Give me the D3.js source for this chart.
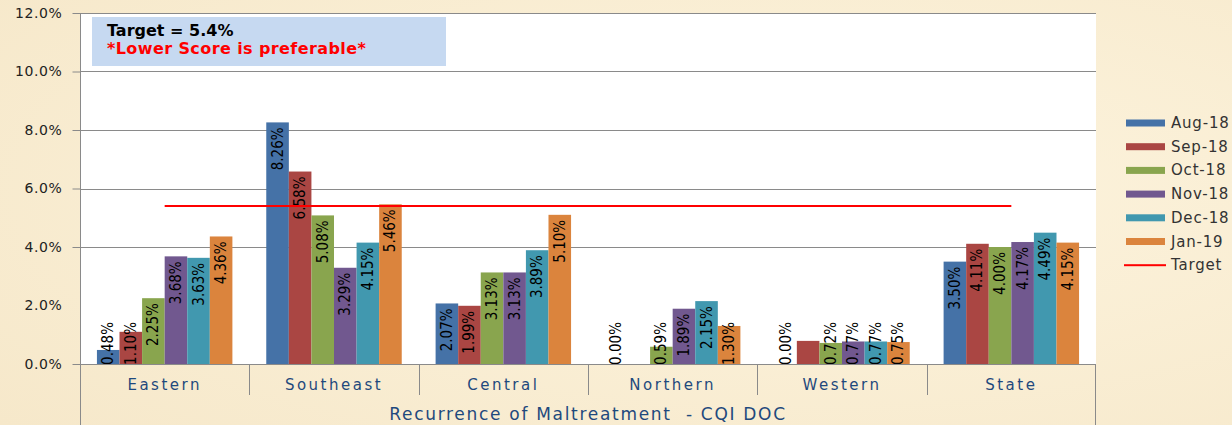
<!DOCTYPE html>
<html>
<head>
  <title>Recurrence of Maltreatment - CQI DOC</title>
  <script src="https://d3js.org/d3.v7.min.js"></script>
  <style>
    body { margin: 0; background: #f8ecd2; overflow: hidden; }
    svg { display: block; }
  </style>
</head>
<body>
  <svg id="chart" width="1232" height="425"></svg>

  <script type="text/javascript">

  // data (percent)
  var regions = ["Eastern", "Southeast", "Central", "Northern", "Western", "State"];
  var months = ["Aug-18", "Sep-18", "Oct-18", "Nov-18", "Dec-18", "Jan-19"];
  var aug18 = [0.48, 8.26, 2.07, 0.00, 0.00, 3.50];
  var sep18 = [1.10, 6.58, 1.99, null, 0.79, 4.11];
  var oct18 = [2.25, 5.08, 3.13, 0.59, 0.72, 4.00];
  var nov18 = [3.68, 3.29, 3.13, 1.89, 0.77, 4.17];
  var dec18 = [3.63, 4.15, 3.89, 2.15, 0.77, 4.49];
  var jan19 = [4.36, 5.46, 5.10, 1.30, 0.75, 4.15];
  var target = 5.4;
  var yTicks = [0, 2, 4, 6, 8, 10, 12];
  // the Western Sep-18 bar has no value label in the original
  var unlabeled = [["Sep-18", "Western"]];

  var series = [aug18, sep18, oct18, nov18, dec18, jan19];
  var colors = ["#4572a7", "#aa4643", "#89a54e", "#71588f", "#4198af", "#db843d"];

  var svg = d3.select("#chart");

  // parchment-ish background
  var defs = svg.append("defs");
  var grad = defs.append("radialGradient").attr("id", "paper")
    .attr("cx", "65%").attr("cy", "45%").attr("r", "85%");
  grad.append("stop").attr("offset", "0%").attr("stop-color", "#fdf4de");
  grad.append("stop").attr("offset", "100%").attr("stop-color", "#f6e8ca");
  svg.append("rect").attr("width", 1232).attr("height", 425).attr("fill", "url(#paper)");

  // (window.top is reserved, so plot edges get their own names)
  var plotLeft = 80, plotRight = 1096, plotTop = 13, plotBottom = 364;

  var y = d3.scaleLinear().domain([0, 12]).range([plotBottom, plotTop]);
  var x0 = d3.scaleBand().domain(regions).range([plotLeft, plotRight])
    .paddingInner(0.2).paddingOuter(0.1);
  var x1 = d3.scaleBand().domain(months).range([0, x0.bandwidth()]);
  var step = x0.step();

  // white plot area
  svg.append("rect")
    .attr("x", plotLeft).attr("y", plotTop)
    .attr("width", plotRight - plotLeft).attr("height", plotBottom - plotTop)
    .attr("fill", "#ffffff");

  // gridlines (the 2% line does not show in the original)
  svg.append("g").selectAll("line")
    .data(yTicks.filter(function(d) { return d >= 4; }))
    .enter().append("line")
    .attr("x1", plotLeft).attr("x2", plotRight)
    .attr("y1", function(d) { return Math.round(y(d)) + 0.5; })
    .attr("y2", function(d) { return Math.round(y(d)) + 0.5; })
    .attr("stroke", "#8a8a8a");

  // y axis
  var yAxis = svg.append("g")
    .attr("transform", "translate(" + (plotLeft + 0.5) + ",0)")
    .call(d3.axisLeft(y).tickValues(yTicks).tickSize(8).tickPadding(10)
      .tickFormat(function(d) { return d.toFixed(1) + "%"; }));
  yAxis.select(".domain").remove();
  yAxis.selectAll(".tick line").attr("stroke", "#8a8a8a")
    .filter(function(d) { return d === 2; }).remove();
  yAxis.selectAll(".tick text")
    .attr("fill", "#222")
    .style("font-family", "DejaVu Sans, sans-serif")
    .style("font-size", "14px")
    .style("letter-spacing", "0.6px");

  // axis frame
  svg.append("line").attr("x1", plotLeft + 0.5).attr("x2", plotLeft + 0.5)
    .attr("y1", plotTop).attr("y2", 425).attr("stroke", "#8a8a8a");
  svg.append("line").attr("x1", plotRight - 0.5).attr("x2", plotRight - 0.5)
    .attr("y1", plotBottom).attr("y2", 425).attr("stroke", "#8a8a8a");
  svg.append("line").attr("x1", plotLeft).attr("x2", plotRight)
    .attr("y1", plotBottom + 0.5).attr("y2", plotBottom + 0.5).attr("stroke", "#8a8a8a");

  // category separators
  svg.append("g").selectAll("line")
    .data(regions.slice(1))
    .enter().append("line")
    .attr("x1", function(d) { return Math.round(x0(d) - step * 0.1) + 0.5; })
    .attr("x2", function(d) { return Math.round(x0(d) - step * 0.1) + 0.5; })
    .attr("y1", plotBottom).attr("y2", 395)
    .attr("stroke", "#8a8a8a");

  // category labels
  svg.append("g").selectAll("text")
    .data(regions)
    .enter().append("text")
    .attr("x", function(d) { return x0(d) + x0.bandwidth() / 2; })
    .attr("y", 390)
    .attr("text-anchor", "middle")
    .attr("fill", "#1f497d")
    .style("font-family", "DejaVu Sans, sans-serif")
    .style("font-size", "15px")
    .style("letter-spacing", "2.5px")
    .text(function(d) { return d; });

  svg.append("text")
    .attr("x", 588).attr("y", 420)
    .attr("text-anchor", "middle")
    .attr("fill", "#1f497d")
    .style("font-family", "DejaVu Sans, sans-serif")
    .style("font-size", "17px")
    .style("letter-spacing", "1.7px")
    .style("white-space", "pre")
    .text("Recurrence of Maltreatment  - CQI DOC");

  // bars
  var flat = [];
  series.forEach(function(vals, si) {
    vals.forEach(function(v, ri) {
      if (v === null) return;
      flat.push({ month: months[si], region: regions[ri], value: v, color: colors[si] });
    });
  });

  var groups = svg.append("g");
  groups.selectAll("rect")
    .data(flat)
    .enter().append("rect")
    .attr("x", function(d) { return x0(d.region) + x1(d.month); })
    .attr("width", x1.bandwidth())
    .attr("y", function(d) { return y(d.value); })
    .attr("height", function(d) { return plotBottom - y(d.value); })
    .attr("fill", function(d) { return d.color; });

  // value labels, rotated, inside the top end of the bar
  var labelLen = 35;
  function isHidden(d) {
    return unlabeled.some(function(u) { return u[0] === d.month && u[1] === d.region; });
  }
  groups.selectAll("text")
    .data(flat.filter(function(d) { return !isHidden(d); }))
    .enter().append("text")
    .attr("transform", function(d) {
      var cx = x0(d.region) + x1(d.month) + x1.bandwidth() / 2;
      var t = y(d.value) + 5;
      var yy = (t + labelLen > plotBottom - 7) ? plotBottom - 7 - labelLen : t;
      return "translate(" + cx + "," + yy + ") rotate(-90)";
    })
    .attr("text-anchor", "end")
    .attr("dominant-baseline", "central")
    .attr("fill", "#000")
    .style("font-family", "Liberation Sans Narrow, DejaVu Sans Condensed, sans-serif")
    .style("font-size", "15px")
    .text(function(d) { return d.value.toFixed(2) + "%"; });

  // target line through the category centres
  var line = d3.line()
    .x(function(d) { return x0(d) + x0.bandwidth() / 2; })
    .y(function() { return y(target); });
  svg.append("path")
    .datum([regions[0], regions[regions.length - 1]])
    .attr("d", line)
    .attr("stroke", "#ff0000")
    .attr("stroke-width", 2)
    .attr("fill", "none");

  // note box
  svg.append("rect")
    .attr("x", 92).attr("y", 17).attr("width", 354).attr("height", 49)
    .attr("fill", "#c6d9f1");
  svg.append("text")
    .attr("x", 107).attr("y", 36)
    .attr("fill", "#000")
    .style("font-family", "DejaVu Sans, sans-serif")
    .style("font-size", "16px")
    .style("font-weight", "bold")
    .text("Target = " + target + "%");
  svg.append("text")
    .attr("x", 107).attr("y", 54)
    .attr("fill", "#ff0000")
    .style("font-family", "DejaVu Sans, sans-serif")
    .style("font-size", "16px")
    .style("letter-spacing", "0.4px")
    .style("font-weight", "bold")
    .text("*Lower Score is preferable*");

  // legend
  var legend = svg.append("g").attr("transform", "translate(1126,123)");
  var items = months.map(function(m, i) { return { name: m, color: colors[i] }; });
  items.push({ name: "Target", color: "#ff0000", line: true });
  var row = legend.selectAll("g")
    .data(items)
    .enter().append("g")
    .attr("transform", function(d, i) { return "translate(0," + (i * 23.7) + ")"; });
  row.append("rect")
    .attr("x", function(d) { return d.line ? -2 : 0; })
    .attr("y", function(d) { return d.line ? -1 : -3.5; })
    .attr("width", function(d) { return d.line ? 42 : 39; })
    .attr("height", function(d) { return d.line ? 2 : 7; })
    .attr("fill", function(d) { return d.color; });
  row.append("text")
    .attr("x", 45)
    .attr("dominant-baseline", "central")
    .attr("fill", "#333")
    .style("font-family", "DejaVu Sans, sans-serif")
    .style("font-size", "15px")
    .style("letter-spacing", "0.8px")
    .text(function(d) { return d.name; });

  </script>
</body>
</html>
